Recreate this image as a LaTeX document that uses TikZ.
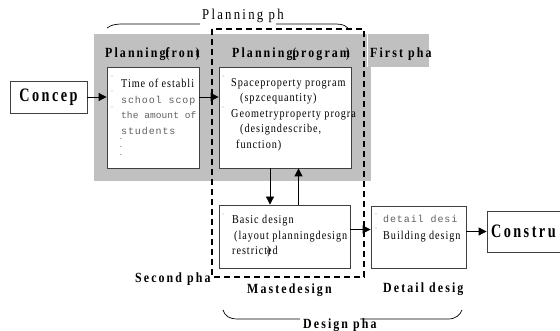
\documentclass[tikz,border=0pt]{standalone}
\usepackage{fontspec}
\setmainfont{Liberation Serif}
\newfontfamily\headfont[FakeStretch=0.85,LetterSpace=15]{Liberation Serif}
\newfontfamily\bigfont[FakeStretch=0.75,LetterSpace=13]{Liberation Serif}
\newfontfamily\bodyfont[FakeStretch=0.85,LetterSpace=8]{Liberation Serif}
\newfontfamily\typefont[LetterSpace=9]{Liberation Mono}
\newfontfamily\typetight[LetterSpace=1]{Liberation Mono}
\usetikzlibrary{positioning, arrows.meta}
\definecolor{panelgray}{HTML}{C0C0C0}
\definecolor{edgegray}{HTML}{404040}
\definecolor{typegray}{HTML}{606060}
\newcommand{\mono}[1]{{\typefont\fontsize{10}{15.5}\selectfont\color{typegray}#1}}
\newcommand{\monotight}[1]{{\typetight\fontsize{9.5}{15.5}\selectfont\color{typegray}#1}}
\newcommand{\paren}[1]{{\mdseries#1}}

\begin{document}
\begin{tikzpicture}[
        x=1pt, y=-1pt,
        box/.style={rectangle, draw=edgegray, line width=0.8pt, fill=white, inner sep=0pt},
        bigbox/.style={box, font=\bigfont\bfseries\fontsize{19}{19}\selectfont},
        heading/.style={anchor=base west, inner sep=0pt, font=\headfont\bfseries\fontsize{14}{14}\selectfont},
        titletext/.style={anchor=base west, inner sep=0pt, font=\headfont\fontsize{15}{15}\selectfont},
        bodytext/.style={anchor=north west, inner sep=0pt, align=left, font=\bodyfont\fontsize{12}{15.5}\selectfont},
        arrow/.style={-{Triangle[length=8pt,width=8pt]}, line width=0.8pt},
        frame/.style={dashed, line width=2.2pt, dash pattern=on 6pt off 4pt},
        bracket/.style={line width=0.7pt},
        speck/.style={fill=gray!70}
    ]
        \useasboundingbox (0,0) rectangle (560,331);
        \clip (0,0) rectangle (560,331);

        % Planning phase panel
        \fill[panelgray] (94,34) rectangle (371,181);
        \fill[panelgray] (367,34) rectangle (429,67);
        \draw[white, line width=1pt] (367,34) -- (367,67);

        % Boxes
        \node[bigbox, minimum width=77pt, minimum height=32pt] (concep) at (48.5,97) {Concep};
        \node[box, minimum width=92pt, minimum height=101pt] (front) at (153,117.5) {};
        \node[box, minimum width=132pt, minimum height=101pt] (program) at (285,117.5) {};
        \node[box, minimum width=131pt, minimum height=63pt] (basic) at (284.5,236.5) {};
        \node[box, minimum width=95pt, minimum height=62pt] (detail) at (418.5,237) {};
        \node[bigbox, minimum width=88pt, minimum height=41pt, text width=80pt, align=left] (constru) at (531,231.5) {Constru};

        % Box texts
        \node[bodytext] (fronttext) at (121,79) {Time of establi\\\mono{school scop}\\\monotight{the amount of}\\\mono{students}};
        \node[bodytext, font=\bodyfont\fontsize{8}{8}\selectfont] (frontdots) at (120,138) {.\\.\\.};
        \node[bodytext] (programtext) at (231,78) {Spaceproperty program\\\hspace*{9pt}(spzcequantity)\\Geometryproperty progra\\\hspace*{9pt}(designdescribe,\\\hspace*{5pt}function)};
        \node[bodytext] (basictext) at (232,215) {Basic design\\\hspace*{2pt}(layout planningdesign\\restrict\rlap{)}ed};
        \node[bodytext, font=\bodyfont\fontsize{12}{17}\selectfont] (detailtext) at (383,215) {\mono{detail desi}\\Building design};

        \fill[speck] (112,76) circle (0.6) (112,91) circle (0.6) (112,107) circle (0.6);
        \fill[speck] (223,76) circle (0.6) (223,107) circle (0.6);
        \fill[speck] (223,214) circle (0.6);
        \fill[speck] (376,214) circle (0.6) (376,228) circle (0.6);

        % Headings and phase labels
        \node[heading] (fronthead) at (105,58) {Planning\rlap{\paren{(}}front\llap{\paren{)}}};
        \node[heading] (programhead) at (232,58) {Planning\rlap{\paren{(}}program\llap{\paren{)}}};
        \node[heading] (firstlabel) at (370,58) {First pha};
        \node[heading] (secondlabel) at (135,283) {Second pha};
        \node[heading] (masterlabel) at (247,294) {Mastedesign};
        \node[heading] (detaillabel) at (383,293) {Detail desig};
        \node[heading] (designlabel) at (303,329) {Design pha};
        \node[titletext] (plantitle) at (202,20) {Planning ph};

        % Brackets
        \draw[bracket] (107,28) .. controls (111,25) and (115,24) .. (123,24) -- (200,24);
        \draw[bracket] (276,24) -- (336,24) .. controls (343,24) and (347,26) .. (349,30);
        \draw[bracket] (223,310) .. controls (225,316) and (229,319) .. (238,319) -- (300,319);
        \draw[bracket] (360,319) -- (448,319) .. controls (456,319) and (460,315) .. (462,310);

        % Arrows
        \draw[arrow] (concep.east) -- (concep.east -| front.west);
        \draw[arrow] (front.east |- concep) -- (program.west |- concep);
        \draw[arrow] ([xshift=-15pt]program.south) -- ([xshift=-15pt]program.south |- basic.north);
        \draw[arrow] ([xshift=14pt]basic.north) -- ([xshift=14pt]basic.north |- program.south);
        \draw[arrow] ([yshift=7pt]basic.east) -- ([yshift=7pt]basic.east -| detail.west);
        \draw[arrow] (detail.east |- constru) -- (constru.west);

        % Master design frame
        \draw[frame] (212,29) rectangle (364,277);
    \end{tikzpicture}
\end{document}
